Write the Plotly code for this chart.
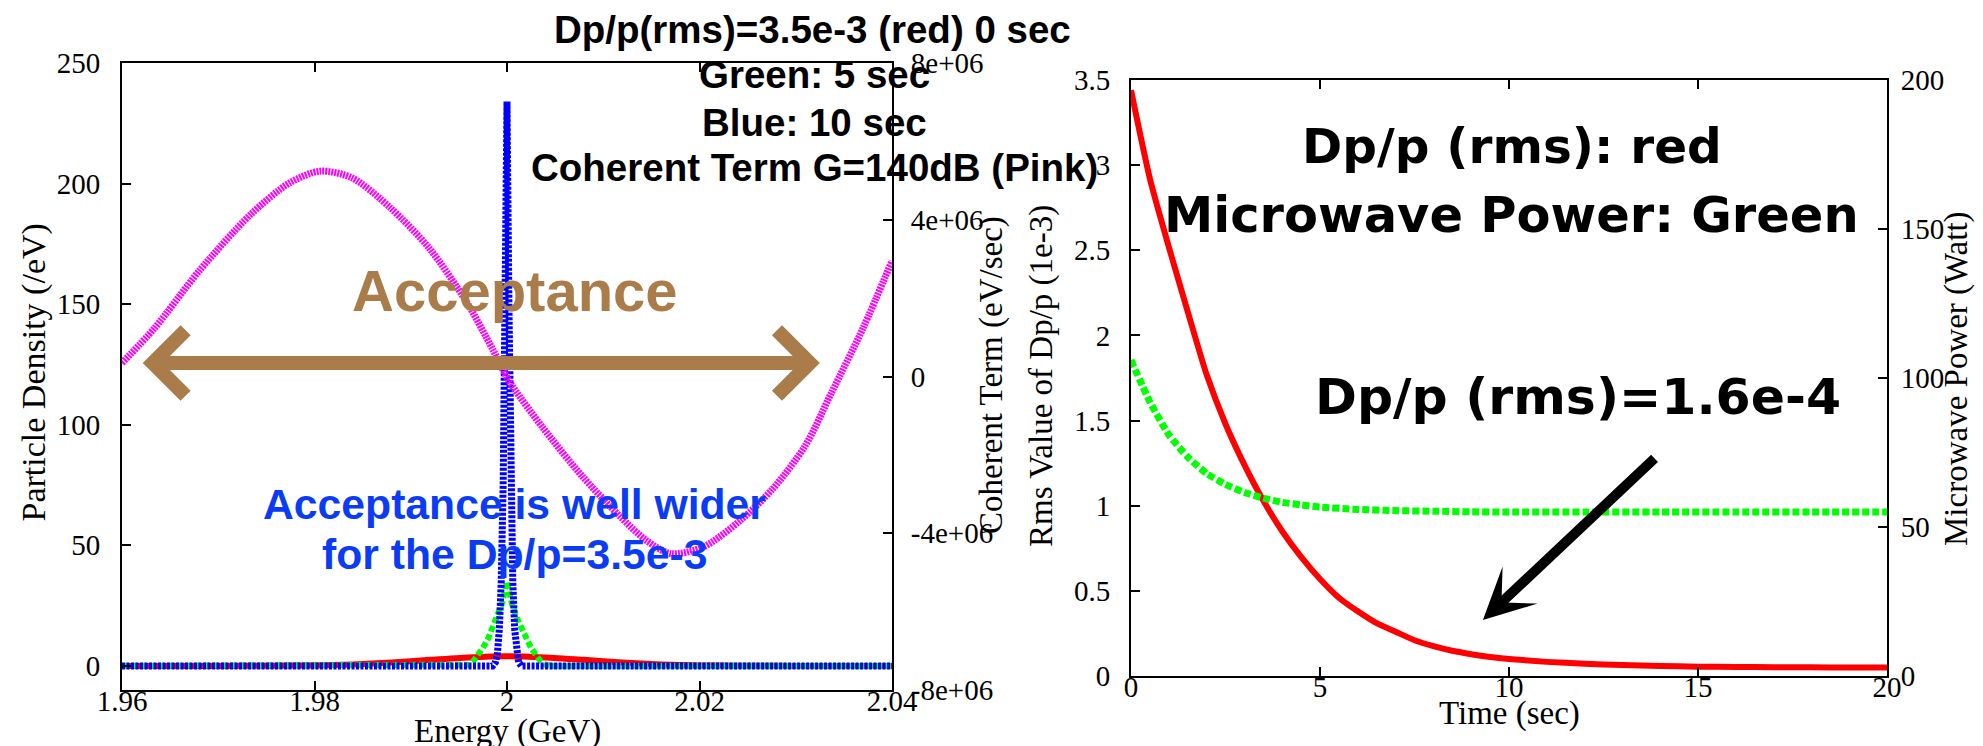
import plotly.graph_objects as go

# ---------------- Left panel data (Energy in GeV) ----------------
E_red = [1.96, 1.97, 1.976, 1.98, 1.984, 1.988, 1.992, 1.996, 2.0, 2.004, 2.008, 2.012, 2.016, 2.02, 2.024, 2.03, 2.04]
N_red = [0, 0, 0.06, 0.2, 0.6, 1.4, 2.5, 3.5, 4.0, 3.5, 2.5, 1.4, 0.6, 0.2, 0.06, 0, 0]

E_green = [1.96, 1.99, 1.9955, 1.996, 1.9965, 1.997, 1.9975, 1.998, 1.9985, 1.999, 1.9995, 2.0,
           2.0005, 2.001, 2.0015, 2.002, 2.0025, 2.003, 2.0035, 2.004, 2.0045, 2.01, 2.04]
N_green = [0, 0, 0, 0.5, 2, 4.5, 7.5, 11, 15.5, 20, 26, 35, 26, 20, 15.5, 11, 7.5, 4.5, 2, 0.5, 0, 0, 0]

E_blue = [1.96, 1.998, 1.9985, 1.9988, 1.999, 1.9992, 1.9994, 1.9996, 1.9998, 2.0,
          2.0002, 2.0004, 2.0006, 2.0008, 2.001, 2.0012, 2.0015, 2.002, 2.04]
N_blue = [0, 0, 0, 1.5, 5, 15, 35, 75, 150, 234, 150, 75, 35, 15, 5, 1.5, 0, 0, 0]

E_pink = [1.96, 1.9634, 1.968, 1.9733, 1.9774, 1.9806, 1.9839, 1.9879, 1.9919, 1.9958, 1.9985, 2.0002,
          2.0038, 2.0078, 2.0117, 2.0144, 2.017, 2.0204, 2.0243, 2.0276, 2.031, 2.0337, 2.037, 2.04]
C_pink = [0.345e6, 1.24e6, 2.69e6, 4.12e6, 4.94e6, 5.24e6, 5.07e6, 4.30e6, 3.28e6, 1.9e6, 0.7e6, -0.11e6,
          -1.33e6, -2.54e6, -3.56e6, -4.17e6, -4.52e6, -4.35e6, -3.66e6, -2.87e6, -1.76e6, -0.42e6, 1.24e6, 2.95e6]

E_ticks = [1.96, 1.98, 2.0, 2.02, 2.04]
E_ticktext = ["1.96", "1.98", "2", "2.02", "2.04"]
N_ticks = [0, 50, 100, 150, 200, 250]
C_ticks = [-8e6, -4e6, 0, 4e6, 8e6]
C_ticktext = ["-8e+06", "-4e+06", "0", "4e+06", "8e+06"]

# ---------------- Right panel data (time in sec) ----------------
T_rms = [0, 0.5, 1, 1.5, 2, 2.5, 3, 3.5, 4, 4.5, 5, 5.5, 6, 6.5, 7, 7.5, 8, 8.5, 9, 9.5, 10,
         11, 12, 13, 14, 15, 16, 17, 18, 19, 20]
RMS = [3.44, 2.92, 2.52, 2.14, 1.77, 1.48, 1.24, 1.03, 0.85, 0.70, 0.57, 0.46, 0.38, 0.31, 0.26, 0.21,
       0.175, 0.148, 0.128, 0.112, 0.10, 0.083, 0.072, 0.064, 0.059, 0.055, 0.053, 0.052, 0.051, 0.05, 0.05]

T_pw = [0, 0.5, 1, 1.5, 2, 2.5, 3, 3.5, 4, 4.5, 5, 6, 7, 8, 9, 10, 12, 14, 16, 18, 20]
PW = [106, 92, 81, 73.5, 68, 64.3, 61.6, 59.7, 58.3, 57.4, 56.7, 55.9, 55.5, 55.3, 55.1, 55.0,
      55.0, 55.0, 55.0, 55.0, 55.0]

T_ticks = [0, 5, 10, 15, 20]
R_ticks = [0, 0.5, 1, 1.5, 2, 2.5, 3, 3.5]
R_ticktext = ["0", "0.5", "1", "1.5", "2", "2.5", "3", "3.5"]
P_ticks = [0, 50, 100, 150, 200]

W, H = 1983, 746
RED, GREEN, BLUE, PINK = "#ff0000", "#00ff00", "#0000ff", "#ff00ff"
BROWN = "#a97c4a"
TXTBLUE = "#0b3cf5"
SERIF = "Liberation Serif, Times New Roman, serif"
SANS = "Liberation Sans, Arial, sans-serif"
WIDE = "DejaVu Sans, Verdana, sans-serif"
DY = 8  # plotly places annotation text slightly below the anchor; compensate


def px(x):
    return x / W


def py(y):
    return 1 - y / H


fig = go.Figure()

# left panel traces
fig.add_trace(go.Scatter(x=E_red, y=N_red, mode="lines", line=dict(color=RED, width=6, shape="spline", smoothing=0.6),
                         xaxis="x", yaxis="y", showlegend=False))
fig.add_trace(go.Scatter(x=E_green, y=N_green, mode="lines", line=dict(color=GREEN, width=6, dash="6px,3px"),
                         xaxis="x", yaxis="y", showlegend=False))
fig.add_trace(go.Scatter(x=E_blue, y=N_blue, mode="lines", line=dict(color=BLUE, width=7, dash="3px,1.5px"),
                         xaxis="x", yaxis="y", showlegend=False))
fig.add_trace(go.Scatter(x=E_pink, y=C_pink, mode="lines",
                         line=dict(color=PINK, width=7, dash="2px,1px", shape="spline", smoothing=0.8),
                         xaxis="x", yaxis="y2", showlegend=False))

# right panel traces
fig.add_trace(go.Scatter(x=T_pw, y=PW, mode="lines",
                         line=dict(color=GREEN, width=7, dash="7px,3px", shape="spline", smoothing=0.6),
                         xaxis="x2", yaxis="y4", showlegend=False))
fig.add_trace(go.Scatter(x=T_rms, y=RMS, mode="lines",
                         line=dict(color=RED, width=6, shape="spline", smoothing=0.6),
                         xaxis="x2", yaxis="y3", showlegend=False))

tickfont = dict(family=SERIF, size=29, color="black")
common = dict(showgrid=False, zeroline=False, showline=True, linecolor="black", linewidth=2,
              ticks="inside", ticklen=9, tickwidth=1.5, tickcolor="black", tickfont=tickfont,
              automargin=False)

fig.update_layout(
    template="none",
    width=W, height=H,
    margin=dict(l=0, r=0, t=0, b=0, pad=0, autoexpand=False),
    paper_bgcolor="white", plot_bgcolor="white",
    showlegend=False,
    xaxis=dict(domain=[px(114), px(884)], range=[1.96, 2.04], anchor="y", mirror="ticks",
               tickvals=E_ticks, ticktext=E_ticktext, ticklabelstandoff=-16, **common),
    yaxis=dict(domain=[py(682), py(55)], range=[-10, 250], anchor="x", tickvals=N_ticks,
               ticklabelstandoff=14, **common),
    yaxis2=dict(overlaying="y", side="right", range=[-8e6, 8e6], anchor="x",
                tickvals=C_ticks, ticktext=C_ticktext, ticklabelstandoff=11, **common),
    xaxis2=dict(domain=[px(1123), px(1879)], range=[0, 20], anchor="y3", mirror="ticks",
                tickvals=T_ticks, ticklabelstandoff=-16, **common),
    yaxis3=dict(domain=[py(668), py(72)], range=[0, 3.5], anchor="x2",
                tickvals=R_ticks, ticktext=R_ticktext, ticklabelstandoff=13, **common),
    yaxis4=dict(overlaying="y3", side="right", range=[0, 200], anchor="x2",
                tickvals=P_ticks, ticklabelstandoff=6, **common),
)

ann = []


def text(x, y, s, size, family, color="black", angle=0):
    if angle == 0:
        y = y - DY
    else:
        x = x - DY
    ann.append(dict(x=px(x), y=py(y), xref="paper", yref="paper", text=s, showarrow=False,
                    xanchor="center", yanchor="middle", textangle=angle,
                    font=dict(family=family, size=size, color=color)))


# axis titles
text(499, 731, "Energy (GeV)", 33, SERIF)
text(1501, 713, "Time (sec)", 33, SERIF)
text(33.5, 365, "Particle Density (/eV)", 34, SERIF, angle=-90)
text(991, 367, "Coherent Term (eV/sec)", 33, SERIF, angle=-90)
text(1041, 368, "Rms Value of Dp/p (1e-3)", 33, SERIF, angle=-90)
text(1956, 371, "Microwave Power (Watt)", 33, SERIF, angle=-90)

# left panel labels
text(804, 29.5, "<b>Dp/p(rms)=3.5e-3 (red) 0 sec</b>", 38.5, SANS)
text(806, 75, "<b>Green: 5 sec</b>", 38.5, SANS)
text(806, 122, "<b>Blue: 10 sec</b>", 38.5, SANS)
text(806, 167.5, "<b>Coherent Term G=140dB (Pink)</b>", 38.5, SANS)
text(507, 290, "<b>Acceptance</b>", 58, SANS, color=BROWN)
text(506, 503.5, "<b>Acceptance is well wider</b>", 42.7, SANS, color=TXTBLUE)
text(506, 554, "<b>for the Dp/p=3.5e-3</b>", 42.7, SANS, color=TXTBLUE)

# right panel labels
text(1504, 145.5, "<b>Dp/p (rms): red</b>", 48.5, WIDE)
text(1503, 214.5, "<b>Microwave Power: Green</b>", 49.5, WIDE)
text(1570, 396.5, "<b>Dp/p (rms)=1.6e-4</b>", 50.5, WIDE)

# acceptance double arrow
ann.append(dict(x=2.0325, y=125.6, ax=1.962, ay=125.6, xref="x", yref="y", axref="x", ayref="y",
                text="", showarrow=True, arrowside="end+start", arrowhead=4, startarrowhead=4,
                arrowsize=0.9, startarrowsize=0.9, arrowwidth=14, arrowcolor=BROWN))
# black arrow
ann.append(dict(x=9.31, y=0.329, ax=13.89, ay=1.286, xref="x2", yref="y3", axref="x2", ayref="y3",
                text="", showarrow=True, arrowhead=3, arrowsize=0.85, arrowwidth=10, arrowcolor="black"))

fig.update_layout(annotations=ann)
fig.write_html("out.html", config={"displayModeBar": False})
